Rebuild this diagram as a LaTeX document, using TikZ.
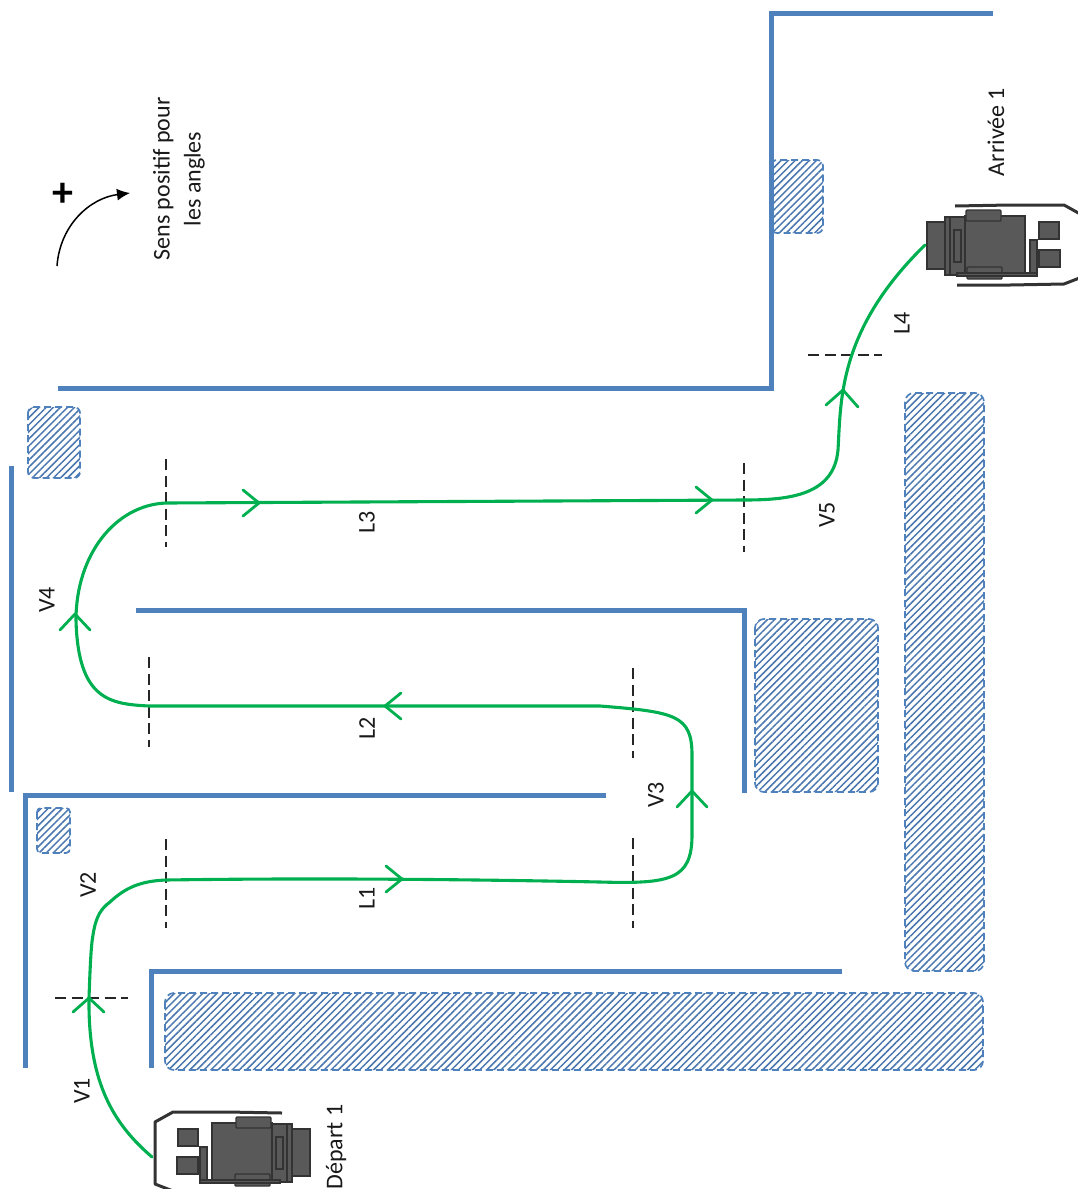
\documentclass[tikz,border=0pt]{standalone}
\usepackage{fontspec}
\setmainfont{Carlito}
\usetikzlibrary{patterns.meta,arrows.meta}
\definecolor{wallblue}{HTML}{4F81BD}
\definecolor{pathgreen}{HTML}{00B050}
\definecolor{vfill}{HTML}{595959}
\definecolor{vline}{HTML}{333333}
\definecolor{hatchblue}{HTML}{4A76AE}
\tikzset{
  wall/.style={draw=wallblue,line width=5pt,line join=miter},
  hatched/.style={draw=wallblue,line width=1.7pt,dash pattern=on 7pt off 4pt,rounded corners=9pt,
    pattern={Lines[angle=45,distance=5pt,line width=1.5pt]},pattern color=hatchblue},
  route/.style={draw=pathgreen,line width=3.1pt,line cap=round,line join=round},
  chevron/.style={draw=pathgreen,line width=2.8pt,line cap=round,line join=round},
  cut/.style={draw=black!85,line width=2pt,dash pattern=on 11pt off 5.5pt},
  lab/.style={rotate=90,font=\fontsize{24}{31}\selectfont,inner sep=0pt,text=black!90},
  vpart/.style={fill=vfill,draw=vline,line width=1.4pt},
  vshell/.style={draw=vline,line width=3pt,line join=round},
}
\newcommand{\drawvehicle}{%
  \draw[vshell] (-40,-40)--(15,-41)--(69,-41)--(87,-31)--(87,31)--(69,38)--(15,39)--(-38,39);
  \draw[vpart] (-68,-24) rectangle (-50,23);
  \draw[vpart] (-50,-29) rectangle (-30,29);
  \draw[vpart] (-30,-30) rectangle (30,30);
  \draw[vpart,rounded corners=1pt] (-29,-36) rectangle (6,-25);
  \draw[vpart,rounded corners=1pt] (-28,21) rectangle (7,33);
  \draw[vpart] (44,-24) rectangle (64,-7);
  \draw[vpart] (44,4) rectangle (65,21);
  \draw[vpart] (35,-6) rectangle (42,30);
  \draw[vpart] (-38,27) rectangle (42,30);
  \draw[vpart] (-41,-16) rectangle (-34,16);
  \draw[vline,line width=1.4pt] (-45,-29) -- (-45,29);
}
\begin{document}
\begin{tikzpicture}[x=1pt,y=-1pt]
\useasboundingbox (0,0) rectangle (1078,1189);
% hatched obstacles
\path[hatched] (165,993) rectangle (983,1070);
\path[hatched] (905,393) rectangle (984,971);
\path[hatched] (755,619) rectangle (878,792);
\path[hatched,rounded corners=6pt] (771,160) rectangle (823,233);
\path[hatched,rounded corners=6pt] (28,407) rectangle (80,478);
\path[hatched,rounded corners=4pt] (37,808) rectangle (70,853);
% walls
\draw[wall] (993,13) -- (771,13) -- (771,388) -- (58,388);
\draw[wall] (11,466) -- (11,792);
\draw[wall] (606,795) -- (25,795) -- (25,1068);
\draw[wall] (842,971) -- (151,971) -- (151,1068);
\draw[wall] (136,610) -- (744,610) -- (744,793);
% section marks
\draw[cut] (166,459) -- (166,547);
\draw[cut] (744,463) -- (744,552);
\draw[cut] (149,657) -- (149,747);
\draw[cut] (633,668) -- (633,758);
\draw[cut] (633,838) -- (633,928);
\draw[cut] (166,839) -- (166,928);
\draw[cut] (55,998) -- (128,998);
\draw[cut] (808,355) -- (882,355);
% vehicles
\begin{scope}[shift={(242,1153)},xscale=-1]\drawvehicle\end{scope}
\begin{scope}[shift={(995,246)}]\drawvehicle\end{scope}
% route
\draw[route] (152,1157) .. controls (115,1125) and (88,1085) .. (89,998)
  .. controls (90,970) and (91,945) .. (93,935)
  .. controls (96,915) and (102,908) .. (110,902)
  .. controls (125,888) and (140,881) .. (166,880)
  .. controls (300,878) and (450,879) .. (600,882)
  .. controls (670,884) and (692,880) .. (692,835)
  -- (692,755)
  .. controls (692,715) and (675,712) .. (600,706)
  -- (149,706)
  .. controls (110,704) and (78,700) .. (76,620)
  .. controls (76,555) and (115,505) .. (166,503)
  -- (744,500)
  .. controls (790,500) and (834,495) .. (838,450)
  .. controls (841,400) and (838,330) .. (925,245);
% arrowheads
\draw[chevron] (243,490) -- (259,503) -- (243,516);
\draw[chevron] (696,487) -- (712,500) -- (696,513);
\draw[chevron] (386,866) -- (402,879) -- (386,892);
\draw[chevron] (401,693) -- (385,706) -- (401,719);
\draw[chevron] (677,807) -- (692,791) -- (707,807);
\draw[chevron] (60,630) -- (75,614) -- (90,630);
\draw[chevron] (73,1012) -- (89,998) -- (104,1012);
\draw[chevron] (826,405) -- (843,390) -- (858,407);
% labels
\node[lab] (l1) at (367,898) {L1};
\node[lab] (l2) at (367,728) {L2};
\node[lab] (l3) at (367,522) {L3};
\node[lab] (l4) at (902,323) {L4};
\node[lab] (v1) at (82,1091) {V1};
\node[lab] (v2) at (88,885) {V2};
\node[lab] (v3) at (656,795) {V3};
\node[lab] (v4) at (47,600) {V4};
\node[lab] (v5) at (827,515) {V5};
\node[lab] (dep) at (336,1147) {Départ 1};
\node[lab] (arr) at (996,132) {Arrivée 1};
\node[lab,align=center] (sens) at (179,179) {Sens positif pour\\les angles};
\node[font=\fontsize{42}{42}\selectfont\bfseries,inner sep=0pt] (plus) at (63,195) {+};
\coordinate (a0) at (57,266);
\coordinate (a1) at (130,193);
\draw[black,line width=1.5pt,-{Latex[length=13pt,width=12pt]}] (a0) .. controls (60,225) and (90,198) .. (a1);
\end{tikzpicture}
\end{document}
